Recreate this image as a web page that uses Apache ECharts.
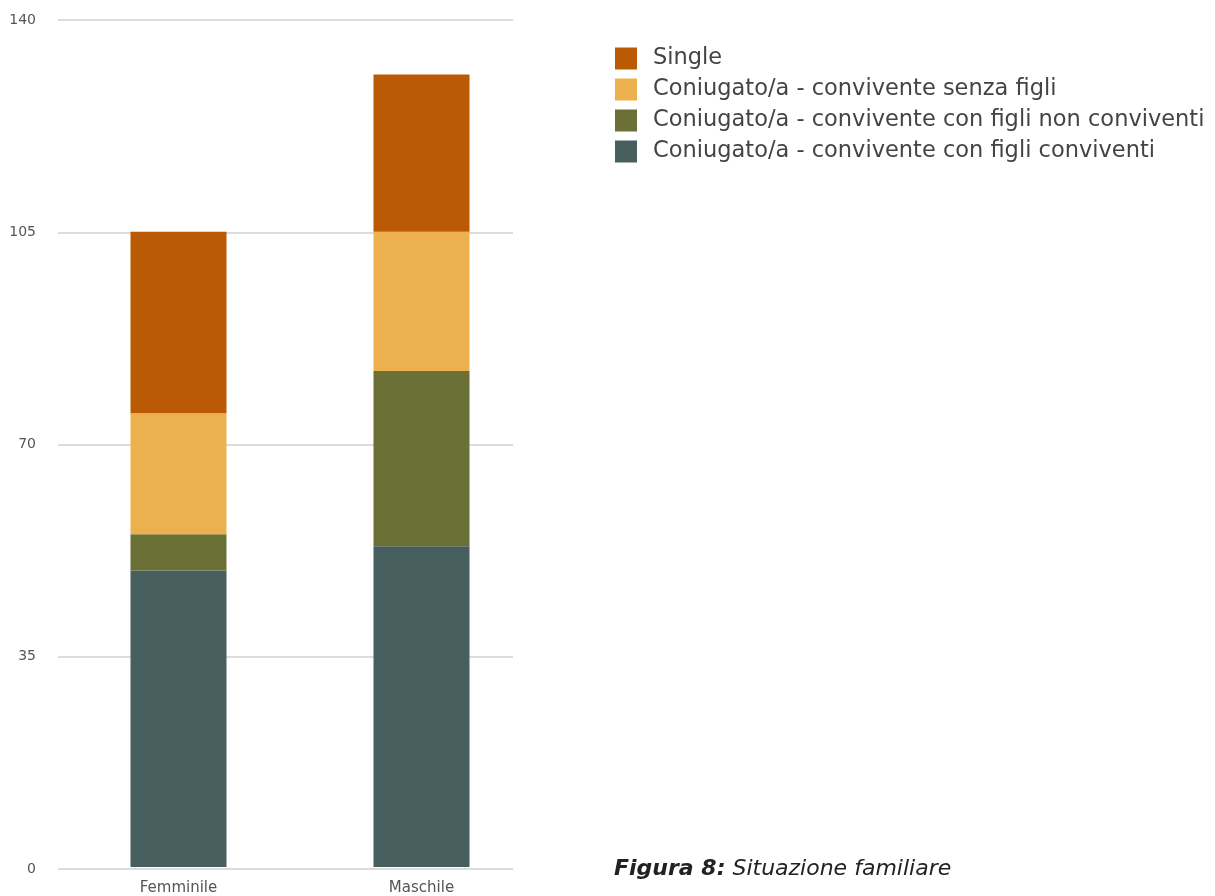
<!DOCTYPE html>
<html>
<head>
<meta charset="utf-8">
<script src="https://cdn.jsdelivr.net/npm/echarts@6/dist/echarts.min.js"></script>
<style>html,body{margin:0;padding:0;background:#fff}#c{width:1215px;height:896px}</style>
</head>
<body>
<div id="c"></div>
<script>
const categories = ['Femminile', 'Maschile'];
const conFigliConviventi = [49, 53];
const conFigliNonConviventi = [6, 29];
const senzaFigli = [20, 23];
const single = [30, 26];
const yTicks = { min: 0, max: 140, interval: 35 };

const names = {
  single: 'Single',
  senza: 'Coniugato/a - convivente senza figli',
  nonConv: 'Coniugato/a - convivente con figli non conviventi',
  conv: 'Coniugato/a - convivente con figli conviventi'
};
const colors = { single: '#BA5A04', senza: '#EDB04F', nonConv: '#6A7036', conv: '#465E5E' };
const font = '"DejaVu Sans", sans-serif';

const chart = echarts.init(document.getElementById('c'));
function bar(name, data, color) {
  return {
    name, type: 'bar', stack: 'tot', data, xAxisIndex: 1, yAxisIndex: 1,
    barWidth: 96, itemStyle: { color }, emphasis: { disabled: true }
  };
}
chart.setOption({
  animation: false,
  grid: [
    { left: 58, top: 20, width: 455, bottom: 27 },
    { left: 57, top: 20, width: 486, bottom: 27 }
  ],
  title: {
    text: '{b|Figura 8:} Situazione familiare',
    left: 609, top: 853,
    textStyle: {
      fontFamily: font, fontSize: 22, fontStyle: 'italic', fontWeight: 'normal', color: '#222',
      rich: { b: { fontFamily: font, fontSize: 22, fontStyle: 'italic', fontWeight: 'bold', color: '#222' } }
    }
  },
  legend: {
    orient: 'vertical', left: 610, top: 42,
    itemWidth: 22, itemHeight: 22, itemGap: 8,
    icon: 'rect',
    data: [names.single, names.senza, names.nonConv, names.conv],
    textStyle: { fontFamily: font, fontSize: 22.5, color: '#444', padding: [0, 0, 0, 11] }
  },
  xAxis: [
    { type: 'category', gridIndex: 0, data: categories, show: false },
    {
      type: 'category', gridIndex: 1, data: categories,
      axisLine: { show: false }, axisTick: { show: false },
      axisLabel: { fontFamily: font, fontSize: 15, color: '#555', margin: 14 }
    }
  ],
  yAxis: [
    {
      type: 'value', gridIndex: 0, min: yTicks.min, max: yTicks.max, interval: yTicks.interval,
      axisLine: { show: false }, axisTick: { show: false },
      axisLabel: { fontFamily: font, fontSize: 14, color: '#555', margin: 22 },
      splitLine: { lineStyle: { color: '#dcdcdc', width: 2 } }
    },
    {
      type: 'value', gridIndex: 1, min: yTicks.min, max: yTicks.max, interval: yTicks.interval,
      show: false, splitLine: { show: false }
    }
  ],
  series: [
    bar(names.conv, conFigliConviventi, colors.conv),
    bar(names.nonConv, conFigliNonConviventi, colors.nonConv),
    bar(names.senza, senzaFigli, colors.senza),
    bar(names.single, single, colors.single)
  ]
});
</script>
</body>
</html>
